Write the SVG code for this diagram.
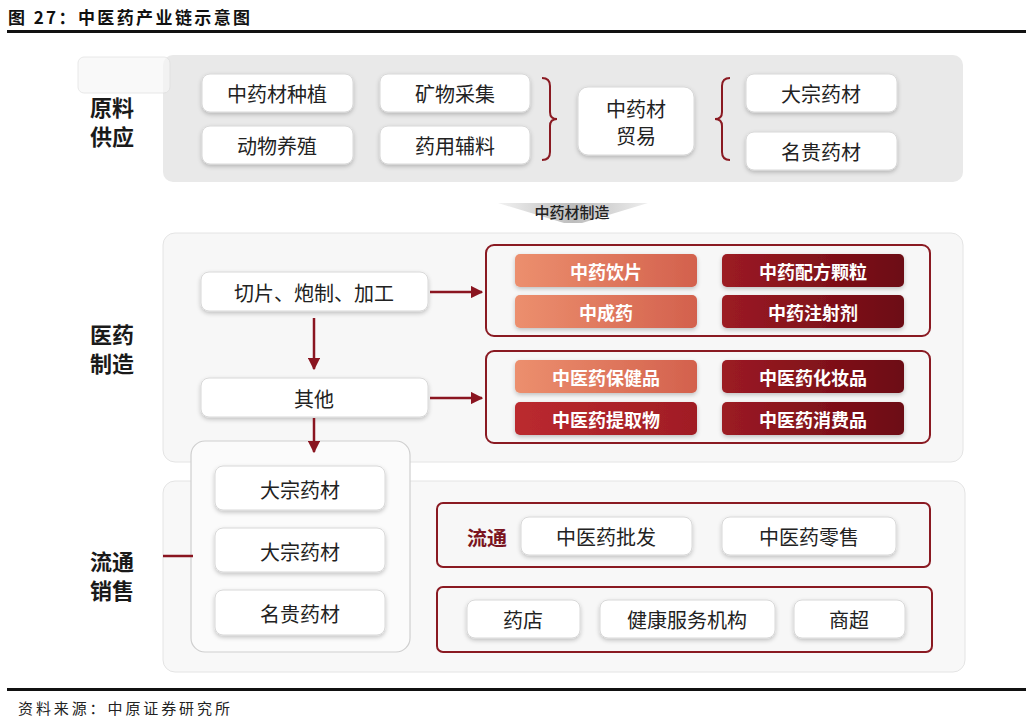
<svg xmlns="http://www.w3.org/2000/svg" width="1032" height="721" viewBox="0 0 1032 721">
<defs>
<style>
.t{font-family:"Noto Sans CJK SC","Noto Sans",sans-serif;fill:#222;text-anchor:middle;dominant-baseline:central}
.wb{fill:#fff;stroke:#d8d8d8;stroke-width:1;filter:url(#sh)}
.lab{font-family:"Noto Sans CJK SC",sans-serif;font-weight:700;font-size:22px;fill:#1a1a1a;text-anchor:middle;dominant-baseline:central}
.bt{font-family:"Noto Sans CJK SC",sans-serif;font-weight:700;font-size:18px;fill:#fff;text-anchor:middle;dominant-baseline:central}
.rb{fill:#f7f7f7;stroke:#8a1a22;stroke-width:2}
.ln{stroke:#8a1520;stroke-width:2.5;fill:none}
.br{stroke:#8a1a22;stroke-width:2;fill:none}
</style>
<filter id="sh" x="-10%" y="-20%" width="120%" height="150%">
<feDropShadow dx="0" dy="2" stdDeviation="2" flood-color="#000" flood-opacity="0.22"/>
</filter>
<linearGradient id="go" x1="0" y1="0" x2="1" y2="0"><stop offset="0" stop-color="#ec8f6e"/><stop offset="1" stop-color="#d3614d"/></linearGradient>
<linearGradient id="gd" x1="0" y1="0" x2="1" y2="0"><stop offset="0" stop-color="#9c1b24"/><stop offset="1" stop-color="#6c0a12"/></linearGradient>
<linearGradient id="gm" x1="0" y1="0" x2="1" y2="0"><stop offset="0" stop-color="#bb2a2f"/><stop offset="1" stop-color="#a01d24"/></linearGradient>
<linearGradient id="gb" x1="0" y1="0" x2="1" y2="0"><stop offset="0" stop-color="#f2f2f2"/><stop offset="0.5" stop-color="#bdbdbd"/><stop offset="1" stop-color="#eeeeee"/></linearGradient>
<marker id="ah" viewBox="0 0 10 10" refX="9" refY="5" markerWidth="5" markerHeight="5" orient="auto" markerUnits="strokeWidth">
<path d="M0,0 L10,5 L0,10 z" fill="#8a1520"/>
</marker>
</defs>
<rect width="1032" height="721" fill="#fff"/>

<g id="title">
<text x="8" y="16" style="font-family:'Noto Sans CJK SC',sans-serif;font-weight:700;font-size:17px;fill:#111;letter-spacing:2.4px" dominant-baseline="central">图 27：中医药产业链示意图</text>
<rect x="7" y="30" width="1019" height="3" fill="#111"/>
</g>

<g id="panels">
<rect x="163" y="55" width="800" height="127" rx="10" fill="#e9e9e9"/>
<rect x="78" y="57" width="92" height="36" rx="6" fill="#f7f7f7" stroke="#dedede" stroke-width="1" opacity="0.7"/>
<rect x="163" y="233" width="800" height="229" rx="12" fill="#f7f7f7" stroke="#e4e4e4" stroke-width="1"/>
<rect x="163" y="481" width="802" height="191" rx="12" fill="#f8f8f8" stroke="#e4e4e4" stroke-width="1"/>
<rect x="191" y="441" width="219" height="211" rx="14" fill="#fbfbfb" stroke="#cfcfcf" stroke-width="1.2"/>
</g>

<g id="section-labels">
<text class="lab" x="112" y="106">原料</text>
<text class="lab" x="112" y="135">供应</text>
<text class="lab" x="112" y="333">医药</text>
<text class="lab" x="112" y="362">制造</text>
<text class="lab" x="112" y="560">流通</text>
<text class="lab" x="112" y="589">销售</text>
</g>

<g id="n-zhongzhi"><rect class="wb" x="202" y="74" width="151" height="38" rx="8"/><text class="t" x="277" y="93" font-size="20">中药材种植</text></g>
<g id="n-kuangwu"><rect class="wb" x="380" y="74" width="150" height="38" rx="8"/><text class="t" x="455" y="93" font-size="20">矿物采集</text></g>
<g id="n-dongwu"><rect class="wb" x="202" y="126" width="151" height="38" rx="8"/><text class="t" x="277" y="145" font-size="20">动物养殖</text></g>
<g id="n-fuliao"><rect class="wb" x="380" y="126" width="150" height="38" rx="8"/><text class="t" x="455" y="145" font-size="20">药用辅料</text></g>
<g id="n-maoyi"><rect class="wb" x="578" y="87" width="116" height="68" rx="10"/><text class="t" x="636" y="108" font-size="20">中药材</text><text class="t" x="636" y="135" font-size="20">贸易</text></g>
<g id="n-dazong1"><rect class="wb" x="746" y="74" width="151" height="38" rx="8"/><text class="t" x="821" y="93" font-size="20">大宗药材</text></g>
<g id="n-minggui1"><rect class="wb" x="746" y="132" width="151" height="38" rx="8"/><text class="t" x="821" y="151" font-size="20">名贵药材</text></g>

<g id="n-banner">
<polygon points="498,203 648,203 582,223 564,223" fill="url(#gb)"/>
<text class="t" x="572" y="211" font-size="15" font-weight="500">中药材制造</text>
</g>

<g id="n-qiepian"><rect class="wb" x="201" y="272" width="227" height="39" rx="8"/><text class="t" x="314" y="292" font-size="20">切片、炮制、加工</text></g>
<g id="n-qita"><rect class="wb" x="201" y="378" width="227" height="39" rx="8"/><text class="t" x="314" y="398" font-size="20">其他</text></g>

<g id="n-group1">
<rect class="rb" x="486" y="245" width="444" height="91" rx="8"/>
<rect x="515" y="254" width="182" height="33" rx="5" fill="url(#go)" filter="url(#sh)"/><text class="bt" x="606" y="271">中药饮片</text>
<rect x="515" y="295" width="182" height="33" rx="5" fill="url(#go)" filter="url(#sh)"/><text class="bt" x="606" y="312">中成药</text>
<rect x="722" y="254" width="182" height="33" rx="5" fill="url(#gd)" filter="url(#sh)"/><text class="bt" x="813" y="271">中药配方颗粒</text>
<rect x="722" y="295" width="182" height="33" rx="5" fill="url(#gd)" filter="url(#sh)"/><text class="bt" x="813" y="312">中药注射剂</text>
</g>
<g id="n-group2">
<rect class="rb" x="486" y="351" width="444" height="92" rx="8"/>
<rect x="515" y="360" width="182" height="33" rx="5" fill="url(#go)" filter="url(#sh)"/><text class="bt" x="606" y="377">中医药保健品</text>
<rect x="515" y="402" width="182" height="33" rx="5" fill="url(#gm)" filter="url(#sh)"/><text class="bt" x="606" y="419">中医药提取物</text>
<rect x="722" y="360" width="182" height="33" rx="5" fill="url(#gd)" filter="url(#sh)"/><text class="bt" x="813" y="377">中医药化妆品</text>
<rect x="722" y="402" width="182" height="33" rx="5" fill="url(#gd)" filter="url(#sh)"/><text class="bt" x="813" y="419">中医药消费品</text>
</g>

<g id="n-dazong2"><rect class="wb" x="215" y="466" width="170" height="44" rx="8"/><text class="t" x="300" y="489" font-size="20">大宗药材</text></g>
<g id="n-dazong3"><rect class="wb" x="215" y="528" width="170" height="44" rx="8"/><text class="t" x="300" y="551" font-size="20">大宗药材</text></g>
<g id="n-minggui2"><rect class="wb" x="215" y="590" width="170" height="45" rx="8"/><text class="t" x="300" y="613" font-size="20">名贵药材</text></g>

<g id="n-liutong">
<rect class="rb" x="437" y="503" width="493" height="64" rx="6"/>
<text x="487" y="537" style="font-family:'Noto Sans CJK SC',sans-serif;font-weight:700;font-size:20px;fill:#7a1420;text-anchor:middle;dominant-baseline:central">流通</text>
<rect class="wb" x="521" y="517" width="171" height="38" rx="8"/><text class="t" x="606" y="536" font-size="20">中医药批发</text>
<rect class="wb" x="722" y="517" width="174" height="38" rx="8"/><text class="t" x="809" y="536" font-size="20">中医药零售</text>
</g>
<g id="n-channels">
<rect class="rb" x="437" y="587" width="495" height="65" rx="6"/>
<rect class="wb" x="467" y="600" width="113" height="38" rx="8"/><text class="t" x="523" y="619" font-size="20">药店</text>
<rect class="wb" x="600" y="600" width="175" height="38" rx="8"/><text class="t" x="687" y="619" font-size="20">健康服务机构</text>
<rect class="wb" x="794" y="600" width="111" height="38" rx="8"/><text class="t" x="849" y="619" font-size="20">商超</text>
</g>

<g id="connectors">
<path class="br" d="M542,78 Q550,78 550,86 L550,112 Q550,119 557,119 Q550,119 550,126 L550,152 Q550,160 542,160"/>
<path class="br" d="M730,78 Q722,78 722,86 L722,112 Q722,119 715,119 Q722,119 722,126 L722,152 Q722,160 730,160"/>
<line class="ln" x1="430" y1="292" x2="482" y2="292" marker-end="url(#ah)"/>
<line class="ln" x1="430" y1="398" x2="482" y2="398" marker-end="url(#ah)"/>
<line class="ln" x1="314" y1="318" x2="314" y2="369" marker-end="url(#ah)"/>
<line class="ln" x1="314" y1="418" x2="314" y2="452" marker-end="url(#ah)"/>
<line class="ln" x1="163" y1="556" x2="193" y2="556"/>
</g>

<g id="footer">
<rect x="7" y="688" width="1019" height="3" fill="#111"/>
<text x="18" y="707" style="font-family:'Noto Sans CJK SC',sans-serif;font-size:15px;fill:#222;letter-spacing:2.9px" dominant-baseline="central">资料来源：中原证券研究所</text>
</g>
</svg>
